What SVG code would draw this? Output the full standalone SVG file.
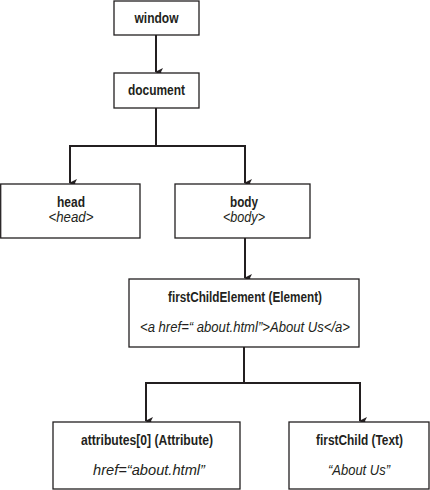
<svg xmlns="http://www.w3.org/2000/svg" width="430" height="490" viewBox="0 0 430 490">
<style>
.box{fill:#fff;stroke:#231f20;stroke-width:1.3}
.t{font-family:"Liberation Sans",Arial,sans-serif;font-size:14px;fill:#231f20;text-anchor:middle}
.b{font-weight:bold}
.i{font-style:italic}
.c{fill:none;stroke:#231f20;stroke-width:2}
</style>
<defs>
<marker id="ah" markerWidth="8" markerHeight="8" refX="4" refY="7" orient="auto" markerUnits="userSpaceOnUse" viewBox="0 0 8 8">
<path d="M0,0 L4,2 L8,0 L4,8 Z" fill="#231f20"/>
</marker>
</defs>
<rect width="430" height="490" fill="#fff"/>
<g id="connectors">
<path class="c" d="M156,35 V72" marker-end="url(#ah)"/>
<path class="c" d="M156,108 V146 H70 V183" marker-end="url(#ah)"/>
<path class="c" d="M156,146 H245 V183" marker-end="url(#ah)"/>
<path class="c" d="M245,238 V278" marker-end="url(#ah)"/>
<path class="c" d="M244,347 V383 H146 V421" marker-end="url(#ah)"/>
<path class="c" d="M244,383 H360 V421" marker-end="url(#ah)"/>
</g>
<g id="window">
<rect class="box" x="114" y="1" width="85" height="34"/>
<text class="t b" x="156.5" y="23" textLength="44" lengthAdjust="spacingAndGlyphs">window</text>
</g>
<g id="document">
<rect class="box" x="114" y="73" width="85" height="35"/>
<text class="t b" x="156.5" y="95" textLength="57" lengthAdjust="spacingAndGlyphs">document</text>
</g>
<g id="head">
<rect class="box" x="0.7" y="184" width="139.3" height="54"/>
<text class="t b" x="71" y="207" textLength="28" lengthAdjust="spacingAndGlyphs">head</text>
<text class="t i" x="71" y="222" textLength="45" lengthAdjust="spacingAndGlyphs">&lt;head&gt;</text>
</g>
<g id="body">
<rect class="box" x="175" y="184" width="135" height="54"/>
<text class="t b" x="244" y="207" textLength="28" lengthAdjust="spacingAndGlyphs">body</text>
<text class="t i" x="244" y="222" textLength="42" lengthAdjust="spacingAndGlyphs">&lt;body&gt;</text>
</g>
<g id="firstChildElement">
<rect class="box" x="129" y="279" width="230" height="68"/>
<text class="t b" x="245" y="302" textLength="154" lengthAdjust="spacingAndGlyphs">firstChildElement (Element)</text>
<text class="t i" x="245" y="332" textLength="210" lengthAdjust="spacingAndGlyphs">&lt;a href=“ about.html”&gt;About Us&lt;/a&gt;</text>
</g>
<g id="attributes">
<rect class="box" x="53" y="422" width="187" height="67"/>
<text class="t b" x="147" y="445" textLength="132" lengthAdjust="spacingAndGlyphs">attributes[0] (Attribute)</text>
<text class="t i" x="149" y="475" textLength="112" lengthAdjust="spacingAndGlyphs">href=“about.html”</text>
</g>
<g id="firstChild">
<rect class="box" x="289" y="422" width="140" height="67"/>
<text class="t b" x="359.5" y="445" textLength="87" lengthAdjust="spacingAndGlyphs">firstChild (Text)</text>
<text class="t i" x="359" y="475" textLength="62" lengthAdjust="spacingAndGlyphs">“About Us”</text>
</g>
</svg>
